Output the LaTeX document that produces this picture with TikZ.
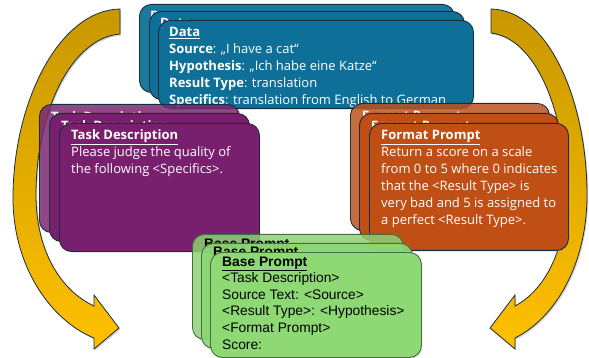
\documentclass[tikz,border=0pt]{standalone}
\usepackage{fontspec}
\setmainfont{Open Sans}
\newfontfamily\greenfont{Liberation Sans}
\usetikzlibrary{shadows}
\definecolor{cblue}{RGB}{14,112,152}
\definecolor{cpurple}{RGB}{120,32,110}
\definecolor{corange}{RGB}{192,79,21}
\definecolor{cgreen}{RGB}{142,217,115}
\definecolor{outl}{RGB}{25,45,60}
\definecolor{goutl}{RGB}{70,110,60}
\definecolor{arrtop}{RGB}{200,152,0}
\definecolor{arrmid}{RGB}{215,162,0}
\definecolor{arrbot}{RGB}{255,192,0}
\newcommand{\cardlines}[1]{\begin{tabular}[t]{@{}l@{}}#1\end{tabular}}
\begin{document}
\begin{tikzpicture}[x=1pt,y=-1pt,
  card/.style={draw=outl, line width=0.9pt, rounded corners=12pt, anchor=north west, inner sep=0,
     drop shadow={opacity=0.3, shadow xshift=0.8pt, shadow yshift=-1.2pt}},
  backcard/.style={card, fill opacity=0.78},
  bluecard/.style={minimum width=315pt, minimum height=88pt, fill=cblue},
  purplecard/.style={minimum width=200pt, minimum height=128pt, fill=cpurple},
  orangecard/.style={minimum width=199pt, minimum height=127pt, fill=corange},
  greencard/.style={minimum width=211pt, minimum height=105pt, fill=cgreen, draw=goutl},
  cardtext/.style={anchor=base west, inner sep=0, font=\fontsize{13}{16.8}\selectfont},
  whitetext/.style={cardtext, text=white},
  blacktext/.style={cardtext, text=black, font=\greenfont\fontsize{13.8}{16.6}\selectfont},
  bigarrow/.style={draw=outl, line width=0.8pt, top color=arrtop, middle color=arrmid, bottom color=arrbot,
     drop shadow={opacity=0.35, shadow xshift=1.2pt, shadow yshift=-1.5pt}}
]
\useasboundingbox (0,0) rectangle (589,358);

% curved arrows
\draw[bigarrow] (120,9) .. controls (60,10) and (14,100) .. (13,195)
   .. controls (12,265) and (50,320) .. (94,338) -- (94,349) -- (119,328) -- (94,295) -- (94,306)
   .. controls (60,290) and (36,250) .. (36,195) .. controls (36,110) and (72,38) .. (120,34) -- cycle;
\draw[bigarrow] (491,9) .. controls (548,10) and (587,100) .. (587,195)
   .. controls (587,265) and (555,318) .. (515,338) -- (515,349) -- (490,328) -- (515,295) -- (515,306)
   .. controls (545,290) and (566,250) .. (566,195) .. controls (566,110) and (535,38) .. (491,33) -- cycle;

% Data stack
\node[card, bluecard, fill opacity=0.92] (data1) at (139,4) {};
\node[whitetext] (data1t) at (150,21) {\underline{\textbf{Data}}};
\node[card, bluecard] (data2) at (149,11) {};
\node[whitetext] (data2t) at (160,28) {\underline{\textbf{Data}}};
\node[card, bluecard] (data3) at (158,20) {};
\node[whitetext] (data3t) at (169,37) {\cardlines{\underline{\textbf{Data}}\\
\textbf{Source}: „I have a cat“\\
\textbf{Hypothesis}: „Ich habe eine Katze“\\
\textbf{Result Type}: translation\\
\textbf{Specifics}: translation from English to German}};

% Task description stack
\node[backcard, purplecard] (task1) at (39,104) {};
\node[whitetext] (task1t) at (51,122) {\underline{\textbf{Task Description}}};
\node[card, purplecard] (task2) at (49,113) {};
\node[whitetext] (task2t) at (61,131) {\underline{\textbf{Task Description}}};
\node[card, purplecard] (task3) at (59,123) {};
\node[whitetext] (task3t) at (71,140) {\cardlines{\underline{\textbf{Task Description}}\\
Please judge the quality of\\
the following <Specifics>.}};

% Format prompt stack
\node[backcard, orangecard] (fmt1) at (350,103) {};
\node[whitetext] (fmt1t) at (362,121) {\underline{\textbf{Format Prompt}}};
\node[card, orangecard] (fmt2) at (359,113) {};
\node[whitetext] (fmt2t) at (371,131) {\underline{\textbf{Format Prompt}}};
\node[card, orangecard] (fmt3) at (369,123) {};
\node[whitetext] (fmt3t) at (381,140) {\cardlines{\underline{\textbf{Format Prompt}}\\
Return a score on a scale\\
from 0 to 5 where 0 indicates\\
that the <Result Type> is\\
very bad and 5 is assigned to\\
a perfect <Result Type>.}};

% Base prompt stack
\node[backcard, greencard] (base1) at (192,234) {};
\node[blacktext] (base1t) at (204,248) {\underline{\textbf{Base Prompt}}};
\node[card, greencard, fill opacity=0.9] (base2) at (201,243) {};
\node[blacktext] (base2t) at (213,257) {\underline{\textbf{Base Prompt}}};
\node[card, greencard] (base3) at (210,252) {};
\node[blacktext] (base3t) at (222,266) {\cardlines{\underline{\textbf{Base Prompt}}\\
<Task Description>\\
Source Text: <Source>\\
<Result Type>: <Hypothesis>\\
<Format Prompt>\\
Score:}};
\end{tikzpicture}
\end{document}
